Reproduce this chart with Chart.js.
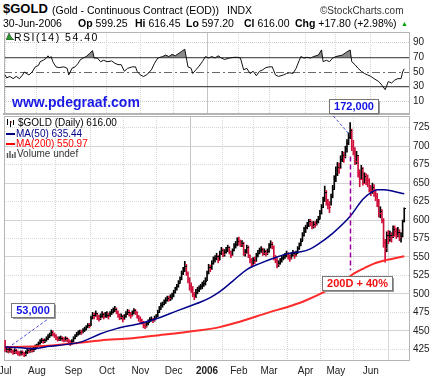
<!DOCTYPE html>
<html>
<head>
<meta charset="utf-8">
<script src="https://cdn.jsdelivr.net/npm/chart.js@4.4.1/dist/chart.umd.min.js"></script>
<style>
html,body{margin:0;padding:0;background:#fff;}
#wrap{position:relative;width:434px;height:378px;overflow:hidden;background:#fff;font-family:"Liberation Sans",Arial,sans-serif;color:#000;}
.t{position:absolute;white-space:nowrap;line-height:1;}
canvas{position:absolute;left:0;}
</style>
</head>
<body>
<div id="wrap">
  <canvas id="rsiChart" width="434" height="88" style="top:28px"></canvas>
  <canvas id="priceChart" width="434" height="288" style="top:90px"></canvas>

  <div class="t" style="left:3px;top:2px;font-weight:bold;font-size:13px;">$GOLD</div>
  <div class="t" style="left:52px;top:5px;font-size:10.5px;">(Gold - Continuous Contract (EOD))</div>
  <div class="t" style="left:227px;top:5px;font-size:10.5px;">INDX</div>
  <div class="t" style="left:320px;top:6px;font-size:10px;color:#333;">©StockCharts.com</div>

  <div class="t" style="left:3px;top:18px;font-size:10.5px;">30-Jun-2006</div>
  <div class="t" style="left:78px;top:18px;font-size:10.5px;"><b>Op</b> 599.25</div>
  <div class="t" style="left:135px;top:18px;font-size:10.5px;"><b>Hi</b> 616.45</div>
  <div class="t" style="left:186px;top:18px;font-size:10.5px;"><b>Lo</b> 597.20</div>
  <div class="t" style="left:244px;top:18px;font-size:10.5px;"><b>Cl</b> 616.00</div>
  <div class="t" style="left:295px;top:18px;font-size:10.5px;"><b>Chg</b> +17.80 (+2.98%)</div>
  <div class="t" style="left:401px;top:20px;font-size:7px;color:#00a000;">▲</div>

  <svg style="position:absolute;left:6px;top:33px" width="8" height="7"><polygon points="0,7 3,0 5,4 8,7" fill="#2a9a2a" stroke="#333" stroke-width="0.6"/></svg>
  <div class="t" style="left:14px;top:32px;font-size:10.5px;letter-spacing:1.5px;">RSI(14) 54.40</div>

  <div class="t" style="left:12px;top:95px;font-size:14px;font-weight:bold;color:#1a1ae6;">www.pdegraaf.com</div>

  <svg style="position:absolute;left:6px;top:119px" width="10" height="8"><path d="M1.5 0V6M4.5 2V8M7.5 1V6" stroke="#000" stroke-width="1"/><path d="M4.5 3H6" stroke="#c00" stroke-width="1"/></svg>
  <div class="t" style="left:18px;top:118px;font-size:10px;">$GOLD (Daily) 616.00</div>
  <div style="position:absolute;left:6px;top:133px;width:9px;height:2px;background:#00008b;"></div>
  <div class="t" style="left:16px;top:129px;font-size:10px;color:#00008b;">MA(50) 635.44</div>
  <div style="position:absolute;left:6px;top:143px;width:9px;height:2px;background:#ff0000;"></div>
  <div class="t" style="left:16px;top:139px;font-size:10px;color:#ff0000;">MA(200) 550.97</div>
  <svg style="position:absolute;left:6px;top:150px" width="10" height="8"><path d="M1.5 8V3M4 8V1M6.5 8V4M9 8V2" stroke="#555" stroke-width="1.4"/></svg>
  <div class="t" style="left:17px;top:149px;font-size:10px;color:#333;">Volume undef</div>
</div>

<script>
// ---------------- DATA ----------------
const monthLabels = ['Jul','Aug','Sep','Oct','Nov','Dec','2006','Feb','Mar','Apr','May','Jun'];
const monthStart  = [0, 20, 43, 64, 85, 106, 127, 147, 166, 189, 208, 230];   // trading-day index
const priceTicks  = [425,450,475,500,525,550,575,600,625,650,675,700,725];
const rsiTicks    = [10,30,50,70,90];

// daily closes, Jul 1 2005 .. Jun 30 2006 (trading days)
const closes = [
  424,426,423,425,423,421,424,422,420,419,421,420,418,421,424,423,425,424,426,429,              // Jul
  430,433,436,437,436,437,440,442,445,448,446,444,441,439,440,440,439,438,440,438,436,433,436,  // Aug
  440,443,446,447,449,448,451,452,455,458,457,468,472,470,474,468,467,470,473,469,472,          // Sep
  472,470,474,476,478,480,476,472,469,470,466,470,473,476,474,471,474,478,476,470,467,          // Oct
  465,462,458,457,460,462,466,466,464,468,470,476,480,485,486,489,492,495,494,496,498,          // Nov
  502,507,510,515,520,528,532,538,528,520,512,508,500,496,503,505,508,510,512,515,518,          // Dec
  528,536,534,542,547,549,551,546,556,560,554,557,560,563,558,553,559,565,568,572,              // Jan
  571,568,569,555,557,563,552,546,541,546,545,552,556,559,561,556,558,555,558,                  // Feb
  566,568,564,550,546,540,542,545,548,550,552,555,551,548,553,556,552,556,562,566,572,580,585,  // Mar
  590,594,598,597,592,595,594,598,602,610,618,628,638,627,622,618,632,642,655,                  // Apr
  662,672,671,683,688,686,697,704,713,722,700,696,680,688,664,655,670,650,660,656,654,644,      // May
  640,645,638,633,625,610,612,600,570,562,580,575,580,578,588,585,580,584,577,579,598,616       // Jun
];
const highs = [
  437,428,427,427,426,424,426,425,423,422,423,423,421,423,426,426,427,427,428,431,
  432,435,438,440,439,439,442,445,447,451,450,447,445,442,442,443,442,441,442,441,439,437,438,
  442,445,448,450,451,451,453,455,457,460,460,470,475,474,477,474,471,473,476,474,475,
  476,474,476,479,481,483,481,477,473,473,471,472,476,479,478,475,477,480,479,476,471,
  469,466,463,460,462,465,468,469,467,470,472,478,483,488,489,492,495,497,497,499,501,
  505,509,513,518,523,531,536,544,540,530,522,515,510,502,506,509,511,513,516,518,522,
  531,540,539,545,550,552,555,552,558,563,561,560,563,566,564,558,561,568,571,576,
  577,573,572,570,560,566,565,553,548,549,550,555,559,562,564,562,561,559,561,
  568,572,570,565,552,548,545,548,551,553,555,558,556,553,555,559,557,558,564,569,575,583,590,
  593,597,601,601,598,598,598,601,605,613,621,631,646,640,628,625,635,647,660,
  672,678,677,687,693,692,700,709,718,732,723,708,698,693,687,668,674,671,664,663,661,656,
  647,650,648,641,636,628,618,614,602,574,584,586,585,583,592,592,589,590,587,583,600,616.45
];
const lows = [
  422,421,420,421,420,418,419,419,417,416,417,417,415,416,419,420,421,421,422,425,
  427,429,432,434,433,434,436,438,441,443,443,441,438,436,437,437,436,435,436,435,432,430,432,
  435,439,442,444,445,445,447,449,451,454,454,457,466,466,469,465,463,465,468,466,468,
  468,466,469,472,474,476,473,468,465,466,462,465,468,472,470,467,470,473,472,467,463,
  461,459,454,453,455,458,462,463,461,463,466,469,475,479,482,485,487,490,490,491,493,
  496,501,505,509,514,519,526,530,525,515,505,502,496,492,495,500,503,506,507,510,512,
  518,527,530,533,540,543,546,542,546,553,550,551,555,557,554,549,552,558,562,565,
  566,564,564,552,551,555,549,542,536,539,541,544,550,554,556,552,553,551,553,
  556,562,561,546,542,535,537,540,543,546,548,550,547,544,547,551,548,551,555,560,565,572,578,
  583,588,591,592,588,589,590,593,596,601,608,617,625,620,615,610,620,630,642,
  652,660,663,670,679,678,684,692,702,710,694,688,675,676,658,645,656,647,650,648,645,638,
  633,636,632,626,618,604,603,596,563,543,557,568,571,570,576,578,575,577,572,570,577,597.2
];

// moving averages (trading-day index, value)
const ma50Day  = [0,10,18,28,40,48,60,70,85,96,108,118,123,129,135,143,152,160,171,181,186,192,196,206,217,225,230,234,238,244,251];
const ma50Val  = [428,427,426,429,432,435,446,453,460,467,477,485,489,495,503,517,533,541,550,556,557,561,566,582,605,628,637,641,641,639,635.44];
const ma200Day = [0,20,43,60,80,97,120,135,147,166,180,189,202,212,219,226,232,240,251];
const ma200Val = [428,429,433,437,440,444,450,455,462,475,484,491,504,516,527,535,541,546,550.97];

// RSI(14)
const rsiDay = [0,1,3,5,7,9,11,12,15,17,19,21,22,24,26,27,28,29,30,32,34,37,39,40,41,42,44,46,47,49,51,53,55,56,58,60,62,64,67,69,71,73,75,77,80,82,83,85,87,89,92,94,96,99,101,103,105,107,111,113,114,115,117,118,120,122,124,126,128,130,132,134,136,138,141,144,146,148,150,152,154,156,158,160,162,164,166,168,170,172,175,177,179,181,183,185,186,188,190,192,194,197,199,200,202,204,206,208,210,212,214,217,218,220,222,224,226,228,230,232,235,237,239,241,243,245,247,249,250,251];
const rsiVal = [46,42,44,41,44,41,46,50,46,50,57,59,64,66,69,72,69,71,64,57,56,57,55,46,50,55,57,62,66,69,71,75,79,69,69,64,66,64,65,62,60,60,51,55,57,57,51,46,44,46,53,62,69,71,73,71,74,72,78,81,69,57,55,48,53,58,64,71,69,71,69,72,69,67,69,70,70,69,53,55,48,51,45,51,53,56,57,57,46,44,46,48,49,48,55,66,71,69,70,69,71,73,80,64,66,64,69,71,72,73,76,80,64,60,55,51,48,46,44,41,37,32,26,37,35,39,41,41,50,54.4];

// annotations (data coordinates: trading-day index, price)
const noteBoxes = [
  {text:'172,000',    day:218.8, price:753.7, color:'#1414e6'},
  {text:'53,000',     day:17.2,  price:478.2, color:'#1414e6'},
  {text:'200D + 40%', day:221.6, price:514.8, color:'#f01010'}
];
const noteLines = [
  {from:[206.4,740.8], to:[215.9,717.4], color:'#4a4ae0', dash:[3,2], width:1},
  {from:[4.3,430.8],   to:[27,466],      color:'#4a4ae0', dash:[3,2], width:1},
  {from:[217.2,686],   to:[217.2,532],   color:'#990099', dash:[5,3], width:1.5}
];

// ---------------- CHARTS ----------------
const FONT = '"Liberation Sans", Arial, sans-serif';
Chart.defaults.font.family = FONT;
Chart.defaults.font.size = 10;
Chart.defaults.color = '#222';

const jan2006 = monthStart[monthLabels.indexOf('2006')];
const xGridColor = c => (c.tick && c.tick.value === jan2006) ? '#c4c4c4' : '#d6d6d6';
const xGridDash  = c => (c.tick && c.tick.value !== jan2006) ? [1,1] : [];

function xScale(showLabels, h) {
  return {
    type:'linear', min:-0.7, max:254, offset:false,
    afterBuildTicks: s => { s.ticks = monthStart.map(v => ({value:v})); },
    afterFit: s => { s.height = h; s.paddingLeft = 0; s.paddingRight = 0; },
    ticks: {
      display: showLabels, autoSkip:false, maxRotation:0, minRotation:0, padding:5, color:'#222',
      font: c => ({family:FONT, size:10, weight: (monthLabels[c.index] === '2006') ? 'bold' : 'normal'}),
      callback: (v, i) => monthLabels[i]
    },
    grid: {drawTicks:false, color:xGridColor, lineWidth:1},
    border: {display:true, color:'#b4b4b4', width: showLabels ? 1 : 2, dash: xGridDash}
  };
}

const framePlugin = {
  id:'frame',
  beforeDatasetsDraw(chart) {
    const a = chart.chartArea, ctx = chart.ctx;
    ctx.save();
    ctx.strokeStyle = '#b4b4b4'; ctx.lineWidth = 1;
    ctx.beginPath();
    ctx.moveTo(a.left + 0.5, a.bottom); ctx.lineTo(a.left + 0.5, a.top + 0.5); ctx.lineTo(a.right, a.top + 0.5);
    ctx.stroke();
    ctx.restore();
  }
};

// RSI panel
new Chart(document.getElementById('rsiChart'), {
  type:'line',
  data:{ datasets:[{
    data: rsiDay.map((d,k) => ({x:d, y:rsiVal[k]})),
    borderColor:'#111', borderWidth:1, pointRadius:0, tension:0,
    fill:{target:{value:70}, above:'#8a8a8a', below:'rgba(0,0,0,0)'}
  }]},
  options:{
    responsive:false, animation:false, devicePixelRatio:1,
    layout:{padding:{left:4, right:0, top:4, bottom:2}},
    plugins:{legend:{display:false}, tooltip:{enabled:false}},
    scales:{
      x: xScale(false, 0),
      y: {
        position:'right', min:-7.1, max:104.4,
        afterBuildTicks: s => { s.ticks = rsiTicks.map(v => ({value:v})); },
        afterFit: s => { s.width = 25; s.paddingTop = 0; s.paddingBottom = 0; },
        ticks:{padding:4, color:'#222', font:{size:10}},
        grid:{
          drawTicks:false,
          color: c => !c.tick ? '#ccc' : (c.tick.value===70 || c.tick.value===30) ? '#505050' : c.tick.value===50 ? '#6a6a6a' : '#cfcfcf',
          lineWidth: c => (c.tick && (c.tick.value===70 || c.tick.value===30)) ? 1.3 : 1
        },
        border:{display:true, color:'#b4b4b4', dash: c => !c.tick ? [] : c.tick.value===50 ? [8,3,2,3] : (c.tick.value===10 || c.tick.value===90) ? [1,1] : []}
      }
    }
  },
  plugins:[framePlugin]
});

// price panel
const barColors = closes.map((c,i) => (i > 0 && c >= closes[i-1]) ? '#000000' : '#d0103a');

const closeTickPlugin = {
  id:'closeTicks',
  afterDatasetDraw(chart, args) {
    if (args.index !== 0) return;
    const ctx = chart.ctx, ys = chart.scales.y;
    ctx.save();
    args.meta.data.forEach((el, i) => {
      const y = Math.round(ys.getPixelForValue(closes[i]));
      ctx.fillStyle = barColors[i];
      ctx.fillRect(Math.round(el.x), y, 2, 1);
    });
    ctx.restore();
  }
};

const notesPlugin = {
  id:'notes',
  afterDatasetsDraw(chart) {
    const ctx = chart.ctx, xs = chart.scales.x, ys = chart.scales.y;
    ctx.save();
    noteLines.forEach(l => {
      ctx.strokeStyle = l.color; ctx.lineWidth = l.width; ctx.setLineDash(l.dash);
      ctx.beginPath();
      ctx.moveTo(xs.getPixelForValue(l.from[0]), ys.getPixelForValue(l.from[1]));
      ctx.lineTo(xs.getPixelForValue(l.to[0]), ys.getPixelForValue(l.to[1]));
      ctx.stroke();
    });
    ctx.restore();
  },
  afterDraw(chart) {
    const ctx = chart.ctx, xs = chart.scales.x, ys = chart.scales.y;
    ctx.save();
    noteBoxes.forEach(b => {
      ctx.font = 'bold 11px ' + FONT;
      const cx = xs.getPixelForValue(b.day), cy = ys.getPixelForValue(b.price);
      const w = Math.round(ctx.measureText(b.text).width + 9), h = 14;
      const x = Math.round(cx - w/2) + 0.5, y = Math.round(cy - h/2) + 0.5;
      ctx.fillStyle = '#9a9a9a'; ctx.fillRect(x + 1.5, y + 1.5, w, h);
      ctx.fillStyle = '#ffffff'; ctx.fillRect(x, y, w, h);
      ctx.strokeStyle = '#777'; ctx.lineWidth = 1; ctx.strokeRect(x, y, w, h);
      ctx.fillStyle = b.color; ctx.textAlign = 'center'; ctx.textBaseline = 'middle';
      ctx.fillText(b.text, x + w/2, y + h/2 + 0.5);
    });
    ctx.restore();
  }
};

new Chart(document.getElementById('priceChart'), {
  type:'bar',
  data:{ datasets:[
    { type:'bar', order:1,
      data: closes.map((c,i) => ({x:i, y:[lows[i], highs[i]]})),
      backgroundColor: barColors, borderWidth:0, barThickness:1 },
    { type:'line', order:0,
      data: ma50Day.map((d,k) => ({x:d, y:ma50Val[k]})),
      borderColor:'#00008b', borderWidth:1.5, pointRadius:0, cubicInterpolationMode:'monotone', fill:false },
    { type:'line', order:0,
      data: ma200Day.map((d,k) => ({x:d, y:ma200Val[k]})),
      borderColor:'#ff2a2a', borderWidth:2, pointRadius:0, cubicInterpolationMode:'monotone', fill:false }
  ]},
  options:{
    responsive:false, animation:false, devicePixelRatio:1,
    layout:{padding:{left:4, right:0, top:26, bottom:0}},
    plugins:{legend:{display:false}, tooltip:{enabled:false}},
    scales:{
      x: xScale(true, 18),
      y: {
        position:'right', min:410.5, max:740.8,
        afterBuildTicks: s => { s.ticks = priceTicks.map(v => ({value:v})); },
        afterFit: s => { s.width = 25; s.paddingTop = 0; s.paddingBottom = 0; },
        ticks:{padding:4, color:'#222', font:{size:10}},
        grid:{drawTicks:false, color: c => (c.tick && c.tick.value % 50 === 0) ? '#d2d2d2' : '#d8d8d8', lineWidth:1},
        border:{display:true, color:'#b4b4b4', dash: c => (c.tick && c.tick.value % 50 !== 0) ? [1,1] : []}
      }
    }
  },
  plugins:[framePlugin, closeTickPlugin, notesPlugin]
});
</script>
</body>
</html>
